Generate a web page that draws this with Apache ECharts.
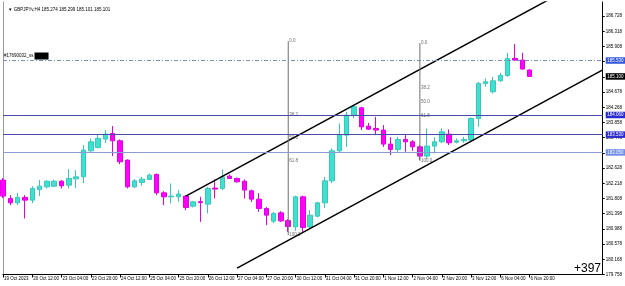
<!DOCTYPE html>
<html><head><meta charset="utf-8">
<script src="https://cdn.jsdelivr.net/npm/echarts@6/dist/echarts.min.js"></script>
<style>html,body{margin:0;padding:0;background:#fff}#c{width:625px;height:286px}</style>
</head><body><div id="c"></div>
<script>
// ---------- data ----------
const categories = [
 '19 Oct 20:00',
 '20 Oct 00:00','20 Oct 04:00','20 Oct 08:00','20 Oct 12:00','20 Oct 16:00','20 Oct 20:00',
 '23 Oct 00:00','23 Oct 04:00','23 Oct 08:00','23 Oct 12:00','23 Oct 16:00','23 Oct 20:00',
 '24 Oct 00:00','24 Oct 04:00','24 Oct 08:00','24 Oct 12:00','24 Oct 16:00','24 Oct 20:00',
 '25 Oct 00:00','25 Oct 04:00','25 Oct 08:00','25 Oct 12:00','25 Oct 16:00','25 Oct 20:00',
 '26 Oct 00:00','26 Oct 04:00','26 Oct 08:00','26 Oct 12:00','26 Oct 16:00','26 Oct 20:00',
 '27 Oct 00:00','27 Oct 04:00','27 Oct 08:00','27 Oct 12:00','27 Oct 16:00','27 Oct 20:00',
 '30 Oct 00:00','30 Oct 04:00','30 Oct 08:00','30 Oct 12:00','30 Oct 16:00','30 Oct 20:00',
 '31 Oct 00:00','31 Oct 04:00','31 Oct 08:00','31 Oct 12:00','31 Oct 16:00','31 Oct 20:00',
 '1 Nov 00:00','1 Nov 04:00','1 Nov 08:00','1 Nov 12:00','1 Nov 16:00','1 Nov 20:00',
 '2 Nov 00:00','2 Nov 04:00','2 Nov 08:00','2 Nov 12:00','2 Nov 16:00','2 Nov 20:00',
 '3 Nov 00:00','3 Nov 04:00','3 Nov 08:00','3 Nov 12:00','3 Nov 16:00','3 Nov 20:00',
 '6 Nov 00:00','6 Nov 04:00','6 Nov 08:00','6 Nov 12:00','6 Nov 16:00','6 Nov 20:00'
];
const tickLabels = ['19 Oct 2023','20 Oct 12:00','23 Oct 04:00','23 Oct 20:00','24 Oct 12:00',
 '25 Oct 04:00','25 Oct 20:00','26 Oct 12:00','27 Oct 04:00','27 Oct 20:00','30 Oct 12:00',
 '31 Oct 04:00','31 Oct 20:00','1 Nov 12:00','2 Nov 04:00','2 Nov 20:00','3 Nov 12:00',
 '6 Nov 04:00','6 Nov 20:00'];
const tickEvery = 4;

const opens = [182.304,181.810,181.691,181.837,181.764,182.052,182.122,182.141,182.276,182.168,
 182.338,182.392,183.094,183.186,183.410,183.563,183.364,182.843,182.122,182.241,
 182.322,182.457,181.961,181.853,181.853,181.872,181.602,181.723,181.656,182.088,
 182.079,182.411,182.349,182.276,182.015,181.791,181.540,181.197,181.421,181.211,
 181.043,181.853,181.043,181.332,181.691,182.284,183.094,183.517,184.057,184.254,
 183.760,183.698,183.653,183.275,183.132,183.401,183.337,183.202,182.951,183.221,
 183.337,183.544,183.328,183.364,183.383,183.968,184.912,184.686,184.982,185.128,
 185.587,185.541,185.274];
const highs = [182.358,181.899,181.961,181.899,182.141,182.304,182.304,182.317,182.304,182.600,
 182.573,183.248,183.428,183.517,183.652,183.760,183.401,182.862,182.330,182.392,
 182.484,182.484,182.007,182.214,182.034,181.899,181.745,181.853,182.122,182.322,
 182.592,182.457,182.371,182.322,182.047,181.953,181.575,181.440,181.467,181.251,
 181.885,181.885,181.494,181.718,182.392,183.159,183.833,184.146,184.327,184.281,
 183.849,184.011,183.787,183.463,183.472,183.517,183.383,183.248,183.698,183.455,
 183.698,183.671,183.428,183.472,183.995,184.956,185.047,185.090,185.198,185.738,
 185.973,185.738,185.299];
const lows = [181.818,181.629,181.629,181.270,181.683,181.872,182.079,182.114,182.079,182.079,
 182.088,182.222,183.067,183.159,183.302,182.951,182.735,182.079,182.088,182.150,
 182.304,181.899,181.629,181.675,181.718,181.494,181.567,181.178,181.405,181.810,
 182.034,182.330,182.236,181.810,181.718,181.448,181.089,181.143,181.170,180.908,
 180.935,180.908,180.998,181.297,181.550,182.222,183.059,183.200,183.976,183.653,
 183.653,183.517,183.202,182.978,183.059,183.067,183.094,182.843,182.889,183.024,
 183.302,183.248,183.294,183.310,183.337,183.741,184.821,184.642,184.956,185.090,
 185.522,185.280,185.101];
const closes = [181.872,181.691,181.837,181.764,182.079,182.141,182.276,182.276,182.150,182.349,
 182.392,183.113,183.337,183.428,183.544,183.364,182.797,182.122,182.284,182.330,
 182.438,181.961,181.853,181.872,181.926,181.567,181.718,181.696,182.079,182.061,
 182.392,182.349,182.258,182.034,181.791,181.540,181.359,181.405,181.205,181.054,
 181.853,181.027,181.359,181.691,182.284,183.094,183.517,184.057,184.281,183.741,
 183.679,183.653,183.275,183.132,183.401,183.337,183.202,182.951,183.221,183.337,
 183.606,183.310,183.364,183.401,183.968,184.912,184.956,184.982,185.128,185.587,
 185.541,185.300,185.101];

const channelUpper = [[25,181.870],[82,187.960]];
const channelLower = [[32,179.930],[82,185.275]];
const fibRatios = [0,38.2,50,61.8,100];
const fib1 = {x:39, top:186.053, bottom:180.820};
const fib2 = {x:57, top:186.000, bottom:182.824};
const dashedLevel = 185.528;
const solidLevels = [184.057,183.531];
const lightLevel = 183.046;
const currentPrice = 185.101;
const objectName = '#17690032_ss';
const headerText = '\u25BC GBPJPYv,H4 185.274 185.299 185.101 185.101';
const profitText = '+397';
const yMin = 179.758, yMax = 187.108, yStep = 0.41;
const futureSlots = 10;

// ---------- build ----------
const allCats = categories.concat(new Array(futureSlots).fill(''));
const ohlc = opens.map((o,i)=>[o, closes[i], lows[i], highs[i]]);
const tickShow = (i)=> i % tickEvery === 0 && i < categories.length;
const FONT = 'Liberation Sans, Arial, sans-serif';
const small = 4.5;
const clear = 'rgba(0,0,0,0)';

function fibPoints(f){
  return fibRatios.map(r=>({name: r.toFixed(1), value:[f.x, f.top - r/100*(f.top-f.bottom)]}));
}
function boxLabel(bg){
  return {show:true, position:'end', distance:3, formatter:(p)=>p.value.toFixed(3),
    backgroundColor:bg, color:'#fff', fontSize:small, fontFamily:FONT, padding:[1,1.5,0.5,1.5]};
}

const chart = echarts.init(document.getElementById('c'), null, {renderer:'canvas'});
chart.setOption({
  animation:false,
  backgroundColor:'#fff',
  title:{text:headerText, left:3, top:2, textStyle:{fontSize:small, fontWeight:'normal', color:'#000', fontFamily:FONT}},
  grid:{left:3, right:22, top:2, bottom:11.5, containLabel:false},
  graphic:[{type:'text', right:24, bottom:11, z:100, style:{text:profitText, fontSize:12, fill:'#000', fontFamily:FONT}}],
  xAxis:{type:'category', data:allCats, boundaryGap:false,
    axisLine:{show:true, lineStyle:{color:'#000', width:1}},
    axisTick:{show:true, length:3, interval:tickShow, lineStyle:{color:'#000'}},
    axisLabel:{interval:tickShow, formatter:(v,i)=>tickLabels[i/tickEvery], align:'left', padding:[0,0,0,1],
      fontSize:small, fontFamily:FONT, color:'#000', margin:2},
    splitLine:{show:false}},
  yAxis:[
    {type:'value', position:'right', min:yMin, max:yMax, interval:yStep,
     axisLine:{show:true, lineStyle:{color:'#000'}},
     axisTick:{show:true, length:2, lineStyle:{color:'#000'}},
     axisLabel:{fontSize:small, fontFamily:FONT, color:'#000', margin:3, showMaxLabel:false, showMinLabel:true,
       formatter:(v)=>v.toFixed(3)},
     splitLine:{show:false}},
    {type:'value', position:'left', min:yMin, max:yMax,
     axisLine:{show:true, lineStyle:{color:'#999'}}, axisTick:{show:false}, axisLabel:{show:false}, splitLine:{show:false}}
  ],
  series:[
    {type:'candlestick', data:ohlc, barWidth:5, clip:true,
     itemStyle:{color:'#40E0D0', color0:'#FF00FF', borderColor:'#36c9bb', borderColor0:'#e000e0', borderWidth:1}},
    {type:'line', data:channelUpper, symbol:'none', clip:true, lineStyle:{color:'#000', width:1.5}},
    {type:'line', data:channelLower, symbol:'none', clip:true, lineStyle:{color:'#000', width:1.5}},
    {type:'line', data:[[fib1.x,fib1.top],[fib1.x,fib1.bottom]], symbol:'none', lineStyle:{color:'#707070', width:1}},
    {type:'line', data:[[fib2.x,fib2.top],[fib2.x,fib2.bottom]], symbol:'none', lineStyle:{color:'#707070', width:1}},
    {type:'scatter', data:fibPoints(fib1).concat(fibPoints(fib2)), symbolSize:0,
     label:{show:true, position:'right', distance:1, formatter:(p)=>p.name, fontSize:small, fontFamily:FONT, color:'#444'}},
    {type:'line', data:[], z:20, markLine:{symbol:'none', silent:true, animation:false,
      data:[
        {yAxis:dashedLevel, lineStyle:{color:'#7d8db8', type:[4,2,1,2], width:1}, label:boxLabel('#3356dc')},
        {yAxis:dashedLevel, lineStyle:{color:clear, width:0}, label:{show:true, position:'insideStartTop', distance:1,
          formatter:'{t|'+objectName+'}{b|}', rich:{t:{fontSize:small, fontFamily:FONT, color:'#000', padding:[0,1,0,0]},
          b:{backgroundColor:'#000', width:14, height:7}}}},
        {yAxis:solidLevels[0], lineStyle:{color:'#4a4aa8', type:'solid', width:1}, label:boxLabel('#2a2ad0')},
        {yAxis:solidLevels[1], lineStyle:{color:'#4a4aa8', type:'solid', width:1}, label:boxLabel('#2a2ad0')},
        {yAxis:lightLevel, lineStyle:{color:'#8c9bd6', type:'solid', width:1}, label:boxLabel('#6f8ee4')},
        {yAxis:currentPrice, lineStyle:{color:clear, width:0}, label:boxLabel('#000')}
      ]}}
  ]
});
</script></body></html>
